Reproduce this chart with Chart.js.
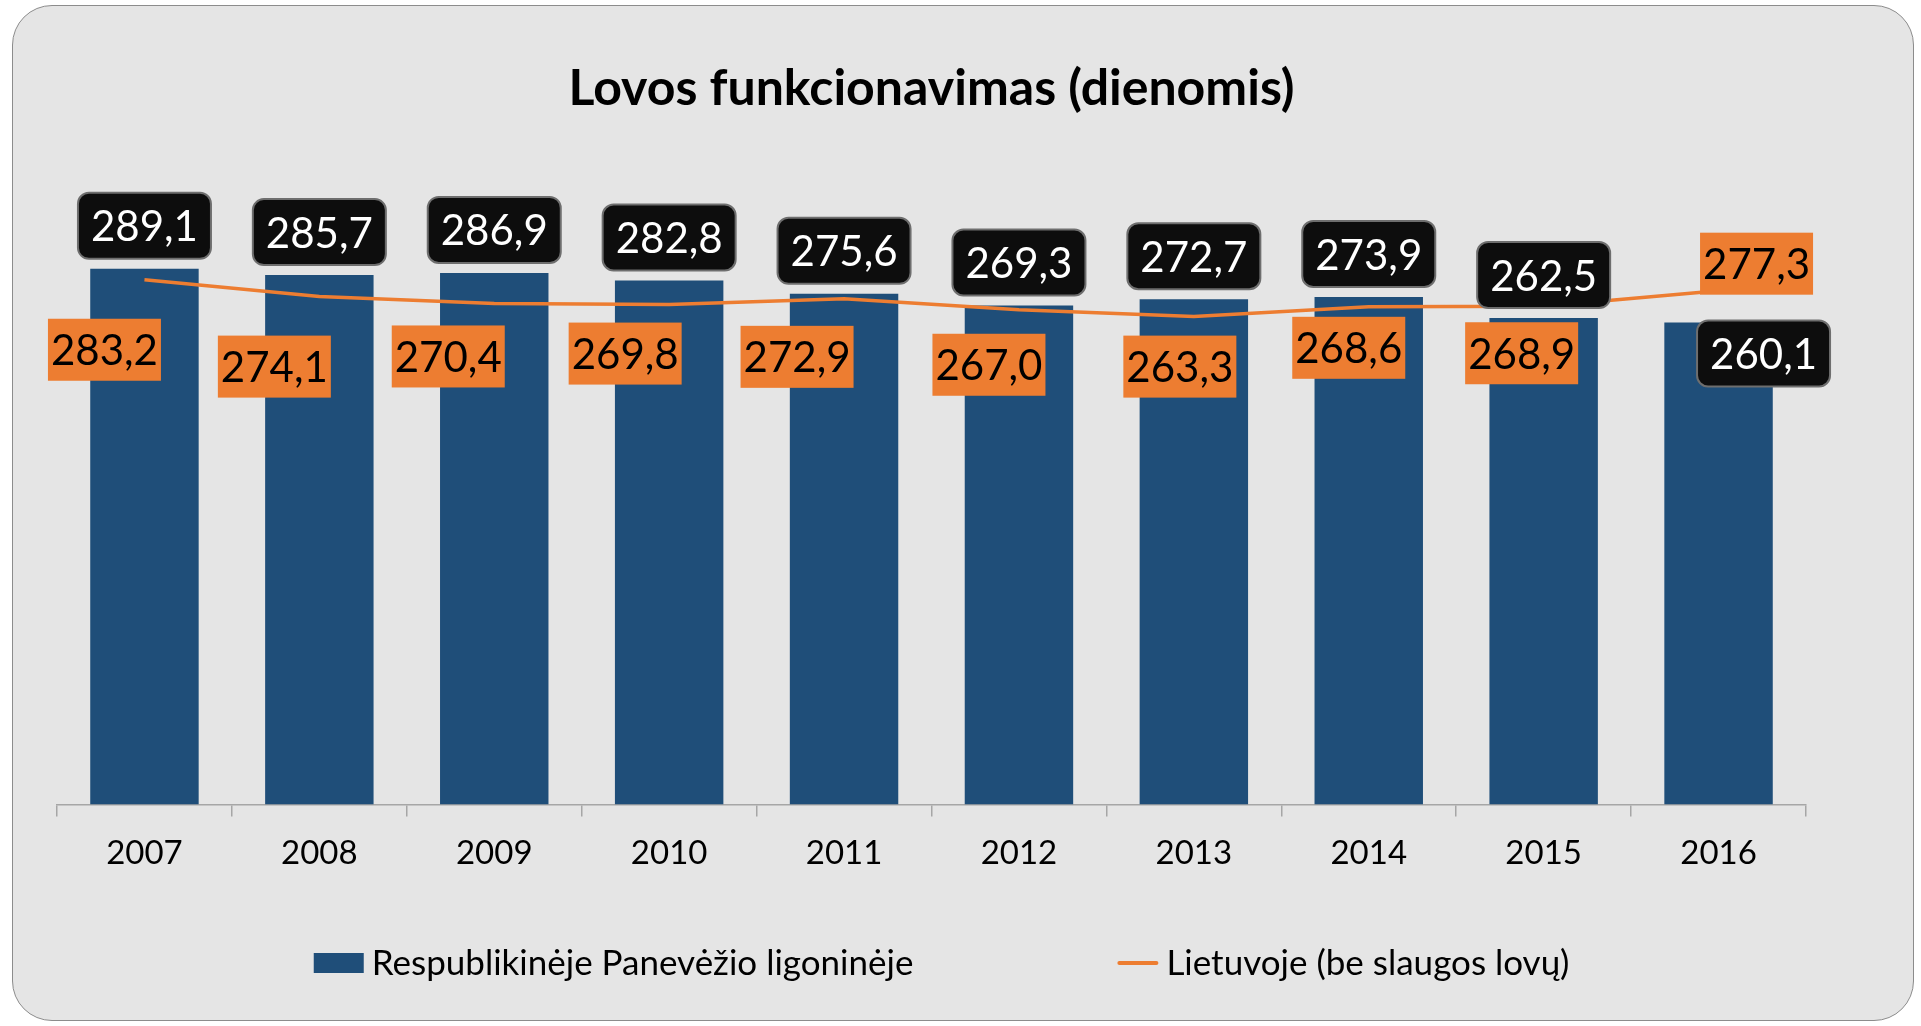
<!DOCTYPE html>
<html>
<head>
<meta charset="utf-8">
<script src="https://cdn.jsdelivr.net/npm/chart.js@4.4.1/dist/chart.umd.min.js"></script>
<style>
  html, body { margin: 0; padding: 0; background: #ffffff; }
  #frame {
    position: absolute; left: 12px; top: 5px;
    width: 1902px; height: 1016px;
    box-sizing: border-box;
    background: #e5e5e5;
    border: 1.5px solid #8c8c8c;
    border-radius: 40px;
    overflow: hidden;
  }
  #frame canvas { position: absolute; left: 0; top: 0; }
</style>
</head>
<body>
<div id="frame"><canvas id="chart"></canvas></div>
<script>
// duomenys
const years = ['2007', '2008', '2009', '2010', '2011', '2012', '2013', '2014', '2015', '2016'];
const hospitalValues = [289.1, 285.7, 286.9, 282.8, 275.6, 269.3, 272.7, 273.9, 262.5, 260.1];
const lithuaniaValues = [283.2, 274.1, 270.4, 269.8, 272.9, 267.0, 263.3, 268.6, 268.9, 277.3];
const yMin = 0;
const yMax = 350;

const BLUE = '#1f4e79';
const ORANGE = '#ed7d31';
const FONT = 'Lato, "Open Sans", sans-serif';

// etikečių poslinkiai (rankiniu būdu kaip Excel'yje)
const barLabelShift = [[0,-43],[0,-43],[0,-43],[0,-43],[0,-43],[0,-43],[0,-43],[0,-43],[0,-43],[45,31]];
const lineLabelShift = [[-40,70],[-45,70],[-46,53],[-44,49],[-47,58],[-30,55],[-14,50],[-20,41],[-22,47],[38,-27]];

const fmt = v => v.toFixed(1).replace('.', ',');

// duomenų etiketės
const labelPlugin = {
  id: 'boxLabels',
  afterDatasetsDraw(chart) {
    const ctx = chart.ctx;
    ctx.save();
    ctx.font = '42px ' + FONT;
    ctx.textAlign = 'center';
    ctx.textBaseline = 'middle';
    // linijos etiketės (oranžinės)
    chart.getDatasetMeta(1).data.forEach((el, i) => {
      const [dx, dy] = lineLabelShift[i];
      const cx = el.x + dx, cy = el.y + dy;
      const w = 113, h = 62;
      ctx.fillStyle = ORANGE;
      ctx.fillRect(cx - w / 2, cy - h / 2, w, h);
      ctx.fillStyle = '#000000';
      ctx.fillText(fmt(lithuaniaValues[i]), cx, cy + 2);
    });
    // stulpelių etiketės (juodos)
    chart.getDatasetMeta(0).data.forEach((el, i) => {
      const [dx, dy] = barLabelShift[i];
      const cx = el.x + dx, cy = el.y + dy;
      const w = 133, h = 66;
      ctx.beginPath();
      ctx.roundRect(cx - w / 2, cy - h / 2, w, h, 11);
      ctx.fillStyle = '#0d0d0d';
      ctx.fill();
      ctx.lineWidth = 2;
      ctx.strokeStyle = '#6e6e6e';
      ctx.stroke();
      ctx.fillStyle = '#ffffff';
      ctx.fillText(fmt(hospitalValues[i]), cx, cy + 2);
    });
    ctx.restore();
  }
};

// legenda apačioje
const legendPlugin = {
  id: 'bottomLegend',
  afterDraw(chart) {
    const ctx = chart.ctx;
    const area = chart.chartArea;
    const y = 957;
    const gap = 204;
    ctx.save();
    ctx.font = '35px ' + FONT;
    ctx.textBaseline = 'middle';
    ctx.textAlign = 'left';
    const items = chart.data.datasets.map(ds => ({
      text: ds.label,
      type: ds.type,
      color: ds.type === 'line' ? ds.borderColor : ds.backgroundColor,
      sw: ds.type === 'line' ? 41 : 50
    }));
    const widths = items.map(it => it.sw + 8 + ctx.measureText(it.text).width);
    const total = widths.reduce((a, b) => a + b, 0) + gap * (items.length - 1);
    let x = (area.left + area.right) / 2 - total / 2 + 10;
    items.forEach((it, i) => {
      if (it.type === 'line') {
        ctx.strokeStyle = it.color;
        ctx.lineWidth = 4;
        ctx.lineCap = 'round';
        ctx.beginPath();
        ctx.moveTo(x + 2, y);
        ctx.lineTo(x + it.sw - 2, y);
        ctx.stroke();
      } else {
        ctx.fillStyle = it.color;
        ctx.fillRect(x, y - 10, it.sw, 20);
      }
      ctx.fillStyle = '#000000';
      ctx.fillText(it.text, x + it.sw + 8, y + 1);
      x += widths[i] + gap;
    });
    ctx.restore();
  }
};

new Chart(document.getElementById('chart'), {
  data: {
    labels: years,
    datasets: [
      {
        type: 'bar',
        label: 'Respublikinėje Panevėžio ligoninėje',
        data: hospitalValues,
        backgroundColor: BLUE,
        borderWidth: 0,
        barPercentage: 0.62,
        categoryPercentage: 1,
        order: 2
      },
      {
        type: 'line',
        label: 'Lietuvoje (be slaugos lovų)',
        data: lithuaniaValues,
        borderColor: ORANGE,
        borderWidth: 3.5,
        pointRadius: 0,
        tension: 0,
        order: 1
      }
    ]
  },
  options: {
    responsive: true,
    maintainAspectRatio: false,
    animation: false,
    layout: { padding: { left: 44, right: 107, top: 0, bottom: 130 } },
    plugins: {
      legend: { display: false },
      tooltip: { enabled: false },
      title: {
        display: true,
        text: 'Lovos funkcionavimas (dienomis)',
        color: '#000000',
        font: { family: FONT, size: 50, weight: 'bold' },
        padding: { top: 53, bottom: 37 }
      }
    },
    scales: {
      x: {
        grid: {
          display: true,
          offset: true,
          drawOnChartArea: false,
          drawTicks: true,
          tickLength: 12,
          color: '#a6a6a6',
          lineWidth: 1.5
        },
        border: { color: '#a6a6a6', width: 1.5 },
        ticks: {
          color: '#000000',
          font: { family: FONT, size: 33 },
          padding: 17
        }
      },
      y: {
        display: false,
        min: yMin,
        max: yMax
      }
    }
  },
  plugins: [labelPlugin, legendPlugin]
});
</script>
</body>
</html>
